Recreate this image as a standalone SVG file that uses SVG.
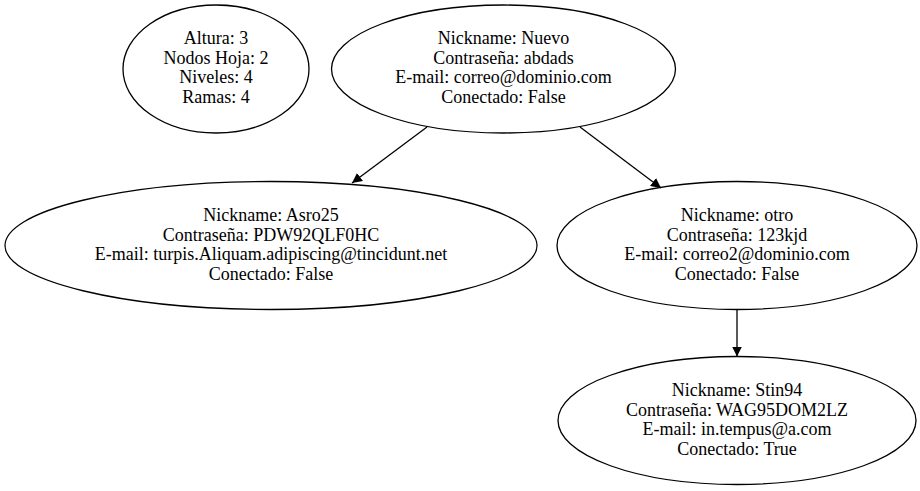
<svg xmlns="http://www.w3.org/2000/svg" width="920" height="491" viewBox="0 0 920 491">
<defs>
<style>
.n ellipse{fill:none;stroke:#000;stroke-width:1.3}
.n text{font-family:'Liberation Serif','Times New Roman',serif;font-size:18px;text-anchor:middle;fill:#000}
.e line{stroke:#000;stroke-width:1.3}
</style>
<marker id="ah" viewBox="0 0 10 10" refX="10" refY="5" markerWidth="10" markerHeight="10" markerUnits="userSpaceOnUse" orient="auto">
<path d="M0,0 L10,5 L0,10 z" fill="#000"/>
</marker>
</defs>
<rect width="920" height="491" fill="#fff"/>
<g id="stats" class="n">
<ellipse cx="216" cy="69" rx="93" ry="64"/>
<text x="216" y="44">Altura: 3</text>
<text x="216" y="63.5">Nodos Hoja: 2</text>
<text x="216" y="83">Niveles: 4</text>
<text x="216" y="102.5">Ramas: 4</text>
</g>
<g id="nuevo" class="n">
<ellipse cx="503.5" cy="69" rx="172" ry="64"/>
<text x="503.5" y="44">Nickname: Nuevo</text>
<text x="503.5" y="63.5">Contraseña: abdads</text>
<text x="503.5" y="83">E-mail: correo@dominio.com</text>
<text x="503.5" y="102.5">Conectado: False</text>
</g>
<g id="asro25" class="n">
<ellipse cx="271" cy="245.5" rx="266" ry="64"/>
<text x="271" y="221">Nickname: Asro25</text>
<text x="271" y="240.5">Contraseña: PDW92QLF0HC</text>
<text x="271" y="260">E-mail: turpis.Aliquam.adipiscing@tincidunt.net</text>
<text x="271" y="279.5">Conectado: False</text>
</g>
<g id="otro" class="n">
<ellipse cx="737" cy="245.5" rx="180" ry="64"/>
<text x="737" y="221">Nickname: otro</text>
<text x="737" y="240.5">Contraseña: 123kjd</text>
<text x="737" y="260">E-mail: correo2@dominio.com</text>
<text x="737" y="279.5">Conectado: False</text>
</g>
<g id="stin94" class="n">
<ellipse cx="737" cy="420.5" rx="179" ry="64"/>
<text x="737" y="396">Nickname: Stin94</text>
<text x="737" y="415.5">Contraseña: WAG95DOM2LZ</text>
<text x="737" y="435">E-mail: in.tempus@a.com</text>
<text x="737" y="454.5">Conectado: True</text>
</g>
<g id="edges" class="e">
<line x1="427" y1="127" x2="352" y2="183" marker-end="url(#ah)"/>
<line x1="580" y1="127" x2="661" y2="188" marker-end="url(#ah)"/>
<line x1="737" y1="309.5" x2="737" y2="356.5" marker-end="url(#ah)"/>
</g>
</svg>
